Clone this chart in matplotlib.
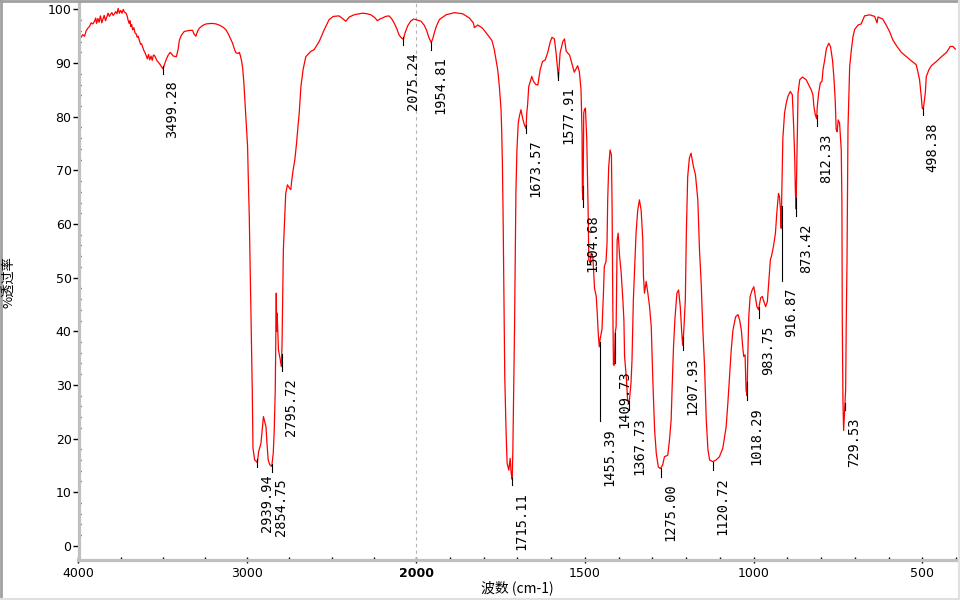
import matplotlib
matplotlib.use("Agg")
import matplotlib.pyplot as plt
from matplotlib.lines import Line2D
from matplotlib.ticker import FixedLocator
import numpy as np


# spectrum (wavenumber in cm-1, %T)
wavenumber = [
    3998, 3994, 3985, 3975, 3964, 3955, 3945, 3935, 3925, 3915, 3905, 3898, 3893, 3885, 3878,
    3870, 3862, 3856, 3848, 3840, 3832, 3825, 3817, 3810, 3802, 3795, 3787, 3780, 3772, 3765,
    3758, 3750, 3742, 3735, 3728, 3718, 3712, 3706, 3700, 3695, 3690, 3685, 3679, 3672, 3665,
    3659, 3652, 3646, 3639, 3632, 3626, 3620, 3612, 3605, 3599, 3592, 3585, 3578, 3570, 3563,
    3556, 3550, 3543, 3536, 3528, 3518, 3508, 3499, 3490, 3481, 3470, 3457, 3446, 3438, 3420,
    3410, 3402, 3390, 3373, 3340, 3324, 3315, 3304, 3295, 3284, 3265, 3244, 3210, 3185, 3160,
    3140, 3126, 3110, 3100, 3087, 3075, 3067, 3055, 3047, 3040, 3033, 3027, 3020, 3014, 3008,
    3002, 2998, 2994, 2988, 2982, 2976, 2970, 2966, 2956, 2948, 2940, 2933, 2919, 2904, 2889,
    2883, 2876, 2866, 2855, 2846, 2840, 2834, 2830, 2828, 2826, 2823, 2815, 2806, 2798, 2794,
    2790, 2786, 2778, 2772, 2762, 2750, 2742, 2736, 2728, 2718, 2708, 2700, 2692, 2682, 2669,
    2653, 2623, 2604, 2574, 2544, 2515, 2490, 2456, 2435, 2416, 2395, 2367, 2318, 2290, 2268,
    2245, 2229, 2215, 2199, 2180, 2160, 2145, 2130, 2115, 2101, 2090, 2075, 2065, 2050, 2032,
    2015, 2000, 1985, 1975, 1968, 1962, 1955, 1950, 1946, 1940, 1931, 1911, 1886, 1862, 1842,
    1830, 1827, 1817, 1803, 1788, 1775, 1768, 1763, 1758, 1753, 1748, 1746, 1744, 1742, 1740,
    1737, 1733, 1730, 1725, 1721, 1718, 1715, 1713, 1711, 1708, 1706, 1704, 1701, 1697, 1694,
    1689, 1684, 1679, 1674, 1672, 1669, 1666, 1657, 1652, 1645, 1639, 1632, 1625, 1617, 1610,
    1602, 1597, 1590, 1585, 1578, 1573, 1565, 1560, 1555, 1545, 1537, 1531, 1521, 1516, 1511,
    1508, 1507, 1505, 1503, 1501, 1498, 1494, 1490, 1488, 1484, 1481, 1476, 1471, 1466, 1463,
    1460, 1457, 1454, 1449, 1445, 1442, 1437, 1434, 1432, 1429, 1425, 1421, 1419, 1417, 1415,
    1412, 1410, 1407, 1404, 1401, 1397, 1392, 1387, 1384, 1382, 1377, 1373, 1368, 1363, 1360,
    1356, 1352, 1348, 1343, 1338, 1333, 1328, 1326, 1323, 1318, 1313, 1308, 1303, 1298, 1293,
    1288, 1282, 1276, 1269, 1264, 1254, 1249, 1244, 1241, 1237, 1233, 1227, 1222, 1217, 1213,
    1210, 1207, 1202, 1199, 1195, 1190, 1185, 1178, 1172, 1165, 1160, 1155, 1150, 1145, 1140,
    1135, 1130, 1121, 1111, 1101, 1091, 1081, 1076, 1071, 1066, 1061, 1053, 1046, 1041, 1036,
    1032, 1029, 1025, 1022, 1019, 1017, 1014, 1010, 1004, 999, 994, 990, 985, 979, 974,
    969, 964, 959, 955, 950, 946, 941, 935, 931, 926, 923, 920, 918, 916, 913,
    908, 903, 898, 891, 885, 881, 878, 876, 874, 872, 870, 868, 863, 855, 844,
    836, 829, 824, 821, 817, 813, 811, 807, 802, 797, 794, 789, 784, 777, 772,
    766, 762, 758, 755, 752, 749, 745, 742, 740, 738, 737, 735, 733, 730, 727,
    725, 723, 720, 715, 710, 705, 700, 690, 681, 671, 656, 641, 634, 631, 617,
    607, 597, 587, 575, 562, 547, 532, 518, 513, 508, 503, 500, 497, 491, 488,
    480, 473, 458, 443, 428, 417, 409, 402, 397,
]
transmittance = [
    94.6, 94.7, 94.8, 95.3, 95.0, 96.0, 96.5, 96.8, 97.5, 97.3, 97.8, 98.4, 97.4, 98.3, 97.6,
    98.8, 97.5, 98.1, 98.9, 97.9, 98.6, 99.3, 98.7, 99.1, 99.4, 98.9, 99.2, 99.6, 99.2, 100.2,
    99.3, 99.8, 99.3, 100.0, 99.5, 99.3, 98.8, 98.0, 97.4, 97.9, 96.8, 97.2, 96.2, 96.6, 95.6,
    95.5, 94.8, 95.0, 94.2, 93.5, 93.6, 93.0, 92.3, 91.9, 91.4, 90.8, 91.6, 90.6, 91.3, 90.5,
    91.5, 91.4, 91.0, 90.5, 90.2, 89.8, 89.3, 88.9, 89.8, 90.6, 91.4, 92.0, 91.6, 91.3, 91.2,
    92.5, 94.3, 95.2, 95.9, 96.1, 96.1, 95.4, 95.0, 95.9, 96.5, 97.0, 97.3, 97.4, 97.3, 97.0,
    96.6, 96.2, 95.3, 94.6, 93.7, 92.5, 91.9, 91.8, 92.0, 91.3, 90.3, 89.0, 86.3, 83.0, 80.0,
    76.5, 74.4, 68.8, 61.4, 50.8, 39.6, 28.4, 18.2, 16.0, 15.8, 15.5, 17.5, 19.1, 24.1, 22.2,
    19.1, 16.0, 15.1, 14.8, 17.2, 21.6, 29.0, 40.0, 47.1, 40.0, 43.4, 36.5, 35.0, 33.4, 37.4,
    46.5, 55.2, 61.4, 65.7, 67.3, 66.7, 66.4, 68.2, 70.1, 72.0, 75.0, 78.0, 80.7, 85.6, 88.8,
    91.2, 92.2, 92.5, 94.0, 96.2, 98.1, 98.7, 98.8, 98.3, 97.8, 98.6, 99.0, 99.3, 99.2, 99.0,
    98.5, 97.9, 98.2, 98.4, 98.7, 98.8, 98.3, 97.5, 96.5, 95.3, 94.8, 94.4, 95.6, 96.9, 97.8,
    98.2, 98.1, 97.8, 97.0, 96.0, 94.8, 93.8, 94.6, 95.6, 96.8, 98.1, 99.0, 99.4, 99.2, 98.4,
    97.5, 96.6, 97.1, 96.5, 95.3, 94.2, 92.5, 90.6, 88.8, 85.6, 81.3, 77.2, 71.3, 62.0, 50.2,
    31.5, 21.0, 15.4, 14.1, 16.3, 13.5, 12.4, 17.9, 26.6, 40.9, 53.3, 65.7, 73.8, 78.8, 80.0,
    81.3, 79.7, 78.5, 77.8, 80.5, 82.5, 85.6, 87.5, 86.6, 86.0, 85.9, 88.8, 90.3, 90.6, 91.9,
    94.0, 94.8, 94.5, 91.9, 87.2, 91.9, 94.0, 94.5, 92.2, 91.5, 89.7, 88.3, 89.5, 88.4, 85.0,
    76.9, 66.0, 64.5, 80.7, 81.3, 81.6, 75.7, 62.6, 53.3, 52.7, 54.6, 53.9, 48.0, 46.5, 43.4,
    39.6, 37.1, 38.7, 40.3, 46.5, 52.1, 53.0, 56.4, 64.5, 70.7, 73.8, 72.9, 63.2, 45.8, 33.7,
    33.7, 39.6, 40.9, 57.0, 58.3, 54.2, 50.8, 45.8, 42.1, 35.3, 31.5, 27.2, 26.9, 30.3, 34.6,
    45.8, 52.1, 58.3, 62.6, 64.5, 62.6, 57.0, 50.2, 47.1, 49.3, 47.1, 44.6, 40.9, 30.3, 21.6,
    17.2, 14.7, 14.4, 15.1, 16.6, 16.9, 19.7, 23.5, 29.7, 37.1, 42.1, 47.1, 47.7, 44.6, 40.2,
    37.4, 39.6, 45.8, 58.3, 68.8, 72.3, 73.2, 70.7, 69.2, 64.5, 55.1, 49.0, 40.2, 33.4, 23.5,
    17.9, 16.0, 15.7, 16.0, 16.6, 18.2, 22.2, 26.6, 31.5, 36.5, 40.2, 42.7, 43.1, 42.1, 40.2,
    37.1, 35.3, 35.6, 29.0, 28.0, 35.3, 42.7, 46.5, 47.7, 48.3, 46.2, 44.6, 44.0, 46.2, 46.5,
    45.5, 44.6, 45.5, 49.0, 53.3, 54.2, 55.8, 58.3, 62.0, 65.7, 65.1, 62.6, 59.2, 66.4, 76.0,
    80.7, 82.5, 83.8, 84.7, 84.1, 78.2, 72.6, 66.4, 62.8, 70.0, 76.9, 84.4, 86.9, 87.4, 86.9,
    85.9, 85.0, 84.1, 81.9, 80.4, 79.6, 81.9, 84.4, 86.3, 86.6, 88.8, 90.6, 92.7, 93.7, 93.1,
    90.6, 87.5, 83.2, 77.6, 77.2, 79.4, 78.8, 75.7, 73.8, 63.9, 42.7, 27.2, 21.5, 25.3, 29.0,
    42.7, 52.7, 78.0, 89.4, 92.5, 95.0, 96.3, 97.1, 97.3, 98.8, 99.0, 98.7, 97.5, 98.6, 98.2,
    97.1, 95.9, 94.3, 93.1, 92.0, 91.2, 90.4, 89.7, 88.4, 86.9, 83.8, 81.6, 81.4, 84.4, 87.5,
    88.8, 89.5, 90.3, 91.2, 92.0, 93.1, 93.1, 92.6, 92.6,
]

# labelled peaks and the %T where each label's tick ends
peak_wn = [3499.28, 2939.94, 2854.75, 2795.72, 2075.24, 1954.81, 1715.11, 1673.57,
           1577.91, 1504.68, 1455.39, 1409.73, 1367.73, 1275.00, 1207.93, 1120.72,
           1018.29, 983.75, 916.87, 873.42, 812.33, 729.53, 498.38]
peak_mark_t = [88.0, 14.7, 13.8, 32.5, 93.4, 92.5, 11.3, 77.0,
               86.9, 63.2, 23.3, 34.0, 25.3, 12.9, 36.5, 14.1,
               27.2, 42.4, 49.4, 61.4, 78.2, 25.3, 80.3]

x_major = [4000, 3000, 2000, 1500, 1000, 500]
x_minor = [3750, 3500, 3250, 2750, 2500, 2250] + list(range(1900, 1000, -100)) + list(range(900, 300, -100))


# 4000-2000 is drawn at half the scale of 2000-400
def forward(x):
    x = np.asarray(x, dtype=float)
    return np.where(x >= 2000, 1000 + x / 2, x)


def inverse(u):
    u = np.asarray(u, dtype=float)
    return np.where(u >= 2000, (u - 1000) * 2, u)


fig = plt.figure(figsize=(9.6, 6), dpi=100)
ax = fig.add_axes([78.5 / 960, 1 - 560.3 / 600, (956 - 78.5) / 960, (560.3 - 3) / 600])
ax.set_xscale('function', functions=(forward, inverse))
ax.set_xlim(4000, 400)
ax.set_ylim(-2.7, 101.2)

ax.axvline(2000, color='#b4b4b4', linestyle=(0, (3, 3)), linewidth=0.8)
ax.plot(wavenumber, transmittance, color='red', linewidth=0.9)

# peak marks and labels
wn_up = np.array(wavenumber[::-1], dtype=float)
t_up = np.array(transmittance[::-1], dtype=float)
for wn, tm in zip(peak_wn, peak_mark_t):
    t_curve = np.interp(wn, wn_up, t_up)
    ax.plot([wn, wn], [max(t_curve, tm + 1.4), tm], color='black', linewidth=0.8)
    ax.annotate(f"{wn:.2f}", xy=(wn, tm), xytext=(6.8, -5), textcoords='offset points',
                rotation=90, ha='center', va='top', fontsize=9.8,
                family='DejaVu Sans Mono', color='black')

# axes styling
for side in ['top', 'right']:
    ax.spines[side].set_visible(False)
for side in ['left', 'bottom']:
    ax.spines[side].set_color('#c0c0c0')
    ax.spines[side].set_linewidth(2.3)

ax.set_yticks(range(0, 101, 10))
ax.yaxis.set_minor_locator(FixedLocator(range(0, 101, 2)))
ax.set_xticks(x_major, [str(v) for v in x_major])
ax.xaxis.set_minor_locator(FixedLocator(x_minor))
ax.tick_params(axis='y', which='major', direction='out', length=4, width=1, colors='black',
               labelsize=9, pad=1)
ax.tick_params(axis='y', which='minor', direction='in', length=1.5, width=1, colors='black')
ax.tick_params(axis='x', which='major', direction='inout', length=5, width=1, colors='black',
               labelsize=9, pad=2)
ax.tick_params(axis='x', which='minor', direction='in', length=2, width=1, colors='black')
for lab in ax.get_xticklabels():
    if lab.get_text() == '2000':
        lab.set_fontweight('bold')

cjk = ['Noto Sans CJK SC', 'DejaVu Sans']
fig.text(517 / 960, 1 - 588 / 600, '波数 (cm-1)', ha='center', va='center', fontsize=10, family=cjk)
fig.text(9 / 960, 1 - 282 / 600, '%透过率', ha='center', va='center', rotation=90, fontsize=9.5,
         family=cjk)

# window-like border round the figure
fig.add_artist(Line2D([0, 1], [0.998, 0.998], transform=fig.transFigure, color='#a0a0a0', linewidth=2))
fig.add_artist(Line2D([0.001, 0.001], [0, 1], transform=fig.transFigure, color='#a0a0a0', linewidth=2))
fig.add_artist(Line2D([0, 1], [0.002, 0.002], transform=fig.transFigure, color='#e0e0e0', linewidth=1.5))
fig.add_artist(Line2D([0.999, 0.999], [0, 1], transform=fig.transFigure, color='#e0e0e0', linewidth=1.5))

fig.savefig('out.png', dpi=100)
